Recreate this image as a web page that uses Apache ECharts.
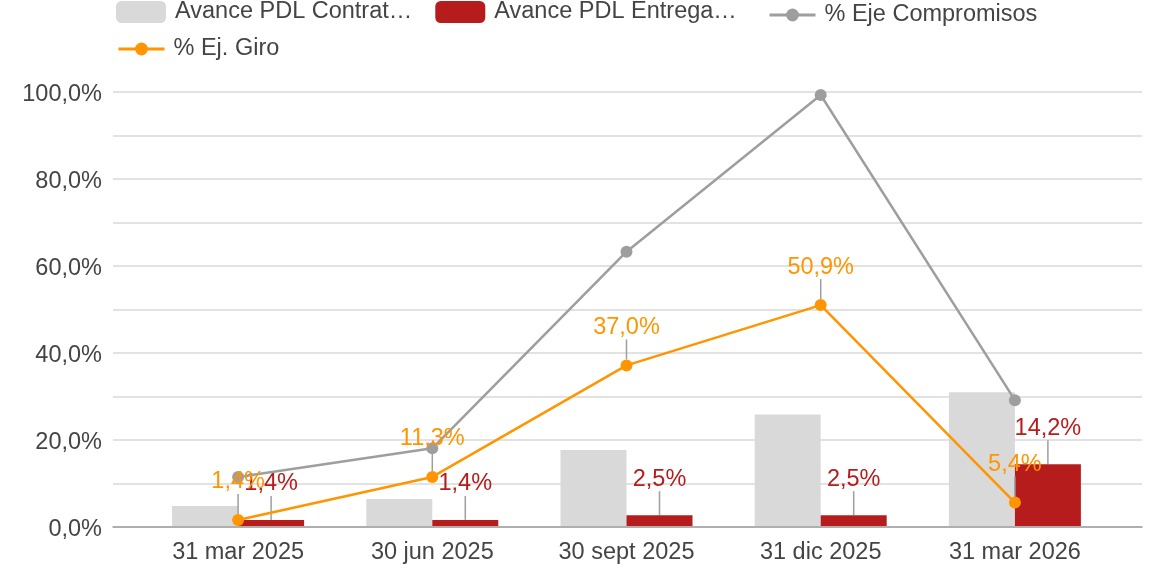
<!DOCTYPE html>
<html style="height: 100%">
<head>
<meta charset="utf-8">
<title>Avance PDL</title>
<style type="text/css">
  body { margin: 0; background: #ffffff; }
  #container { width: 1152px; height: 565px; }
</style>
</head>
<body>
<div id="container"></div>
<script type="text/javascript" src="https://cdn.jsdelivr.net/npm/echarts@6/dist/echarts.min.js"></script>
<script type="text/javascript">
// datos
var categorias = ['31 mar 2025', '30 jun 2025', '30 sept 2025', '31 dic 2025', '31 mar 2026'];
var pdlContratado = [4.6, 6.2, 17.5, 25.7, 30.8];
var pdlEntregado = [1.4, 1.4, 2.5, 2.5, 14.2];
var ejeCompromisos = [11.3, 17.9, 63.2, 99.3, 29.0];
var ejGiro = [1.4, 11.3, 37.0, 50.9, 5.4];
var nombres = ['Avance PDL Contratado', 'Avance PDL Entregado', '% Eje Compromisos', '% Ej. Giro'];

var fuente = "'Liberation Sans', Arial, sans-serif";
var texto = '#444444';
var tam = 23.5;

function pct(v) {
  return v.toFixed(1).replace('.', ',') + '%';
}
function recortar(name) {
  return name.length > 18 ? name.slice(0, 18) + '\u2026' : name;
}

var dom = document.getElementById('container');
var myChart = echarts.init(dom);

var etiquetaLinea = { show: true, lineStyle: { color: '#9e9e9e', width: 1.5 } };
var textoLeyenda = { fontSize: tam, color: texto, fontFamily: fuente, padding: [4, 0, 0, 4] };

var option = {
  animation: false,
  textStyle: { fontFamily: fuente },
  legend: [
    {
      left: 111, top: -5,
      itemWidth: 50, itemHeight: 22, itemGap: 23,
      data: [nombres[0], nombres[1]],
      formatter: recortar,
      textStyle: textoLeyenda
    },
    {
      left: 763, top: -2,
      itemWidth: 46, itemHeight: 16,
      lineStyle: { width: 3 },
      data: [nombres[2]],
      textStyle: textoLeyenda
    },
    {
      left: 112, top: 32,
      itemWidth: 46, itemHeight: 16,
      lineStyle: { width: 3 },
      data: [nombres[3]],
      textStyle: textoLeyenda
    }
  ],
  grid: [
    { left: 113, right: 10, top: 92, bottom: 38 },
    { left: 141, right: 40, top: 92, bottom: 38 }
  ],
  xAxis: [
    {
      gridIndex: 0, type: 'value', min: 0, max: 1,
      axisLabel: { show: false }, axisTick: { show: false }, splitLine: { show: false },
      axisLine: { show: true, lineStyle: { color: '#9e9e9e', width: 1.5 } }
    },
    {
      gridIndex: 1, type: 'category', data: categorias,
      axisLine: { show: false }, axisTick: { show: false },
      axisLabel: { fontSize: tam, color: texto, margin: 15, fontFamily: fuente }
    }
  ],
  yAxis: [
    {
      gridIndex: 0, type: 'value', min: 0, max: 100, interval: 10,
      axisLine: { show: false }, axisTick: { show: false },
      axisLabel: {
        fontSize: tam, color: texto, margin: 11, fontFamily: fuente,
        formatter: function (v) { return v % 20 === 0 ? '{p|' + pct(v) + '}' : ''; },
        rich: { p: { fontSize: tam, color: texto, fontFamily: fuente, padding: [6, 0, 0, 0] } }
      },
      splitLine: { lineStyle: { color: '#d9d9d9', width: 1.5 } }
    },
    {
      gridIndex: 1, type: 'value', min: 0, max: 100, show: false
    }
  ],
  series: [
    {
      name: nombres[0], type: 'bar', xAxisIndex: 1, yAxisIndex: 1,
      data: pdlContratado, barWidth: 66, barGap: '0%',
      itemStyle: { color: '#d9d9d9' }
    },
    {
      name: nombres[1], type: 'bar', xAxisIndex: 1, yAxisIndex: 1,
      data: pdlEntregado, barWidth: 66, barGap: '0%',
      itemStyle: { color: '#b71c1c' },
      label: {
        show: true, position: 'top', formatter: function (p) { return pct(p.value); },
        fontSize: tam, color: '#b71c1c', fontFamily: fuente
      },
      labelLayout: { dy: -19 },
      labelLine: etiquetaLinea
    },
    {
      name: nombres[2], type: 'line', xAxisIndex: 1, yAxisIndex: 1,
      data: ejeCompromisos, symbol: 'circle', symbolSize: 12,
      lineStyle: { color: '#9e9e9e', width: 2.5 },
      itemStyle: { color: '#9e9e9e' }
    },
    {
      name: nombres[3], type: 'line', xAxisIndex: 1, yAxisIndex: 1,
      data: ejGiro, symbol: 'circle', symbolSize: 12,
      lineStyle: { color: '#ff9500', width: 2.5 },
      itemStyle: { color: '#ff9500' },
      label: {
        show: true, position: 'top', formatter: function (p) { return pct(p.value); },
        fontSize: tam, color: '#ff9500', fontFamily: fuente
      },
      labelLayout: { dy: -15 },
      labelLine: etiquetaLinea
    }
  ]
};

myChart.setOption(option, true);
</script>
</body>
</html>
